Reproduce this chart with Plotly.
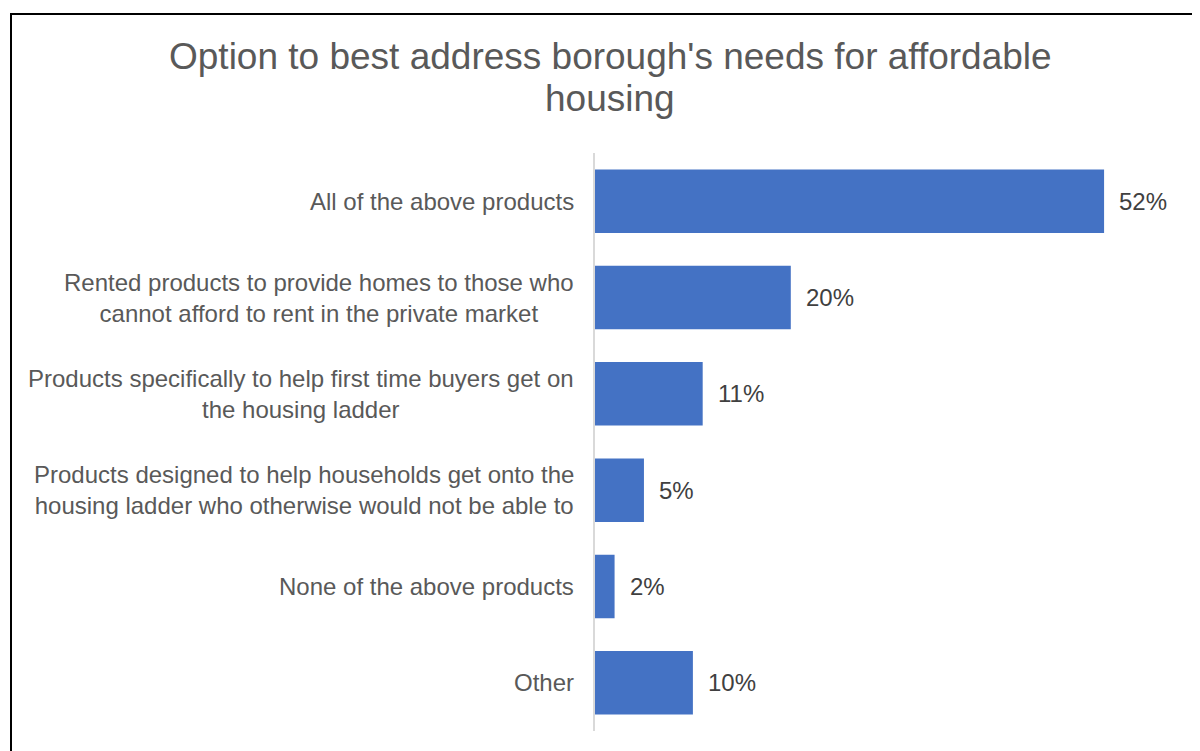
import plotly.graph_objects as go

categories = [
    "All of the above products",
    "Rented products to provide homes to those who<br>cannot afford to rent in the private market",
    "Products specifically to help first time buyers get on<br>the housing ladder",
    "Products designed to help households get onto the<br>housing ladder who otherwise would not be able to",
    "None of the above products",
    "Other",
]
values = [52, 20, 11, 5, 2, 10]
value_labels = ["52%", "20%", "11%", "5%", "2%", "10%"]
title_lines = ["Option to best address borough's needs for affordable", "housing"]

# page body has an 8px default margin; all pixel positions below are screen pixels
OFF = 8
W, H = 1200 - OFF, 751 - OFF
plot_l, plot_r, plot_t, plot_b = 595, 1180, 153, 731
px_per_unit = 9.79
xmax = (plot_r - plot_l) / px_per_unit

FONT = "Liberation Sans, Arial, sans-serif"

fig = go.Figure()
fig.add_trace(go.Bar(
    y=categories, x=values, orientation="h",
    marker=dict(color="#4472C4", line=dict(width=0)),
    hoverinfo="skip",
))

pw = plot_r - plot_l
ph = plot_b - plot_t
def px_x(x):
    return (x - plot_l) / pw
def px_y(y):
    return (plot_b - y) / ph

annotations = []
for c, v, t in zip(categories, values, value_labels):
    annotations.append(dict(
        x=v, y=c, xref="x", yref="y", text=t, showarrow=False,
        xanchor="left", yanchor="middle", xshift=13,
        font=dict(family=FONT, size=24, color="#404040"),
    ))
    annotations.append(dict(
        x=0, y=c, xref="paper", yref="y", text=c, showarrow=False,
        xanchor="right", yanchor="middle", xshift=-19, align="center",
        font=dict(family=FONT, size=24, color="#595959"),
    ))

for line, cy in zip(title_lines, [57, 99]):
    annotations.append(dict(
        x=px_x(610), y=px_y(cy), xref="paper", yref="paper", text=line,
        showarrow=False, xanchor="center", yanchor="middle",
        font=dict(family=FONT, size=37, color="#595959"),
    ))

fig.update_layout(
    width=W, height=H,
    margin=dict(l=plot_l - OFF, r=W - (plot_r - OFF), t=plot_t - OFF,
                b=H - (plot_b - OFF), pad=0),
    paper_bgcolor="white", plot_bgcolor="white",
    showlegend=False,
    bargap=0.34,
    xaxis=dict(range=[0, xmax], visible=False, fixedrange=True),
    yaxis=dict(
        autorange="reversed", showticklabels=False, ticks="",
        showline=True, linecolor="#d9d9d9", linewidth=2,
        showgrid=False, zeroline=False, fixedrange=True,
    ),
    annotations=annotations,
    shapes=[dict(
        type="rect", xref="paper", yref="paper",
        x0=px_x(11), x1=px_x(1215), y0=px_y(770), y1=px_y(14),
        line=dict(color="black", width=2), fillcolor="rgba(0,0,0,0)",
        layer="below",
    )],
)

fig.write_html("out.html", config={"displayModeBar": False})
